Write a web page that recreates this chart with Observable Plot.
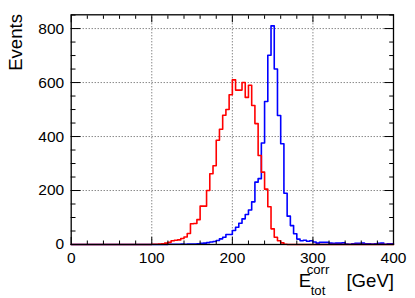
<!DOCTYPE html>
<html>
<head>
<meta charset="utf-8">
<script src="https://cdn.jsdelivr.net/npm/d3@7"></script>
<script src="https://cdn.jsdelivr.net/npm/@observablehq/plot@0.6"></script>
<style>
  html, body { margin: 0; padding: 0; background: #fff; }
  svg { display: block; }
</style>
</head>
<body>
<div id="chart"></div>
<script>
// ---- data ----
const binWidth = 4;          // GeV per bin, 100 bins over 0..400 GeV
const xRange = [0, 400];
const yRange = [0, 851];

// red histogram: counts per 4-GeV bin starting at 0 GeV
const redCounts = [
  0,0,0,0,0,0,0,0,0,0,
  0,0,0,0,0,0,0,0,0,0,
  0,0,0,0,0,1,1,2,3,5,
  8,14,16,17,22,28,41,77,78,92,
  142,142,200,262,292,386,427,479,500,555,
  610,572,572,600,545,590,515,448,330,268,
  205,140,58,27,14,6,1,0,0,0,
  0,0,0,0,0,0,0,0,0,0,
  0,0,0,0,0,0,0,0,0,0,
  0,0,0,0,0,0,0,0,0,0
];

// blue histogram: counts per 4-GeV bin starting at 0 GeV
const blueCounts = [
  0,0,0,0,0,0,0,0,0,0,
  0,0,0,0,0,0,0,0,0,0,
  0,0,0,0,0,0,0,0,0,0,
  1,1,1,1,2,1,2,2,2,3,
  4,5,7,9,11,15,21,27,37,37,
  52,64,79,95,111,128,158,231,244,376,
  530,701,810,650,478,373,190,105,70,40,
  20,14,16,12,14,9,5,8,8,8,
  5,4,5,5,6,2,1,3,4,4,
  5,3,3,2,3,4,5,1,3,3
];

const xMajor = [0, 100, 200, 300, 400];
const xMinor = [20, 40, 60, 80, 120, 140, 160, 180, 220, 240, 260, 280, 320, 340, 360, 380];
const xGrid = [100, 200, 300];
const yMajor = [0, 200, 400, 600, 800];
const yMinor = [50, 100, 150, 250, 300, 350, 450, 500, 550, 650, 700, 750, 850];
const yGrid = [200, 400, 600, 800];

const yTitle = "Events";
const xTitleMain = "E";
const xTitleSup = "corr";
const xTitleSub = "tot";
const xTitleUnit = "[GeV]";

// step outlines (bin lower edge -> count), closed at the right edge of the range
function steps(counts) {
  const pts = counts.map((c, i) => ({x: i * binWidth, y: c}));
  pts.push({x: counts.length * binWidth, y: counts[counts.length - 1]});
  return pts;
}
const redSteps = steps(redCounts);
const blueSteps = steps(blueCounts);

const W = 415, H = 298;
const mL = 70.7, mR = 22, mT = 14.3, mB = 54;
const font = "'Liberation Sans', Arial, Helvetica, sans-serif";
const gridStyle = {stroke: "#555", strokeOpacity: 1, strokeWidth: 1, strokeDasharray: "1,2"};
const blank = () => "";

const chart = Plot.plot({
  width: W, height: H,
  marginLeft: mL, marginRight: mR, marginTop: mT, marginBottom: mB,
  style: {fontFamily: font, fontSize: "15.5px", background: "#fff", color: "#000", overflow: "visible"},
  x: {domain: xRange, label: null},
  y: {domain: yRange, label: null},
  marks: [
    Plot.gridX(xGrid, gridStyle),
    Plot.gridY(yGrid, gridStyle),
    Plot.line(blueSteps, {x: "x", y: "y", curve: "step-after", stroke: "#0000ff", strokeWidth: 1.6}),
    Plot.line(redSteps, {x: "x", y: "y", curve: "step-after", stroke: "#ff0000", strokeWidth: 1.6}),
    Plot.frame({stroke: "#000", strokeWidth: 1.3}),
    // inward ticks on all four sides
    Plot.axisX(xMinor, {anchor: "bottom", tickSize: -3.5, tickFormat: blank, label: null}),
    Plot.axisX(xMajor, {anchor: "bottom", tickSize: -7, tickFormat: blank, label: null}),
    Plot.axisX(xMinor, {anchor: "top", tickSize: -3.5, tickFormat: blank, label: null}),
    Plot.axisX(xMajor, {anchor: "top", tickSize: -7, tickFormat: blank, label: null}),
    Plot.axisY(yMinor, {anchor: "left", tickSize: -4.8, tickFormat: blank, label: null}),
    Plot.axisY(yMajor, {anchor: "left", tickSize: -9.7, tickFormat: blank, label: null}),
    Plot.axisY(yMinor, {anchor: "right", tickSize: -4.8, tickFormat: blank, label: null}),
    Plot.axisY(yMajor, {anchor: "right", tickSize: -9.7, tickFormat: blank, label: null}),
    // tick labels
    Plot.axisX(xMajor, {anchor: "bottom", tickSize: 0, tickPadding: 7.2, label: null, fontSize: 15.5}),
    Plot.axisY(yMajor, {anchor: "left", tickSize: 0, tickPadding: 7, label: null, fontSize: 15.5})
  ]
});

document.getElementById("chart").appendChild(chart);

// axis titles (real SVG text)
const svg = d3.select(chart);
const g = svg.append("g").attr("font-family", font).attr("fill", "#000");
g.append("text")
  .attr("transform", "translate(21.7,14) rotate(-90)")
  .attr("text-anchor", "end")
  .attr("font-size", 18.6)
  .text(yTitle);
g.append("text").attr("x", 305).attr("y", 286.5).attr("font-size", 18.6).text(xTitleMain);
g.append("text").attr("x", 318).attr("y", 274).attr("font-size", 13.2).text(xTitleSup);
g.append("text").attr("x", 318).attr("y", 294.5).attr("font-size", 13.2).text(xTitleSub);
g.append("text").attr("x", 394).attr("y", 286.5).attr("text-anchor", "end").attr("font-size", 18.6).text(xTitleUnit);
</script>
</body>
</html>
